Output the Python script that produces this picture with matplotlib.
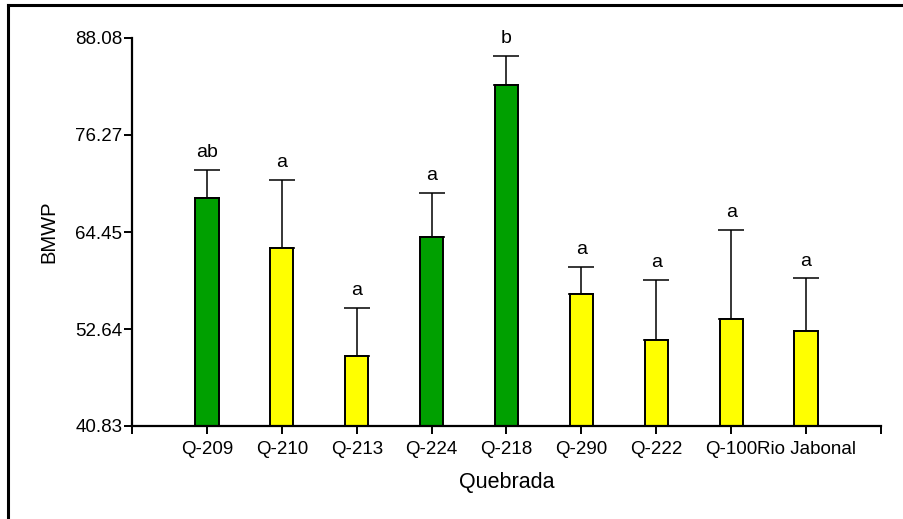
import numpy as np
import matplotlib
matplotlib.use('Agg')
import matplotlib.pyplot as plt
from matplotlib.lines import Line2D

plt.rcParams['font.family'] = ['Liberation Sans', 'DejaVu Sans']

# data
sites = ['Q-209', 'Q-210', 'Q-213', 'Q-224', 'Q-218', 'Q-290', 'Q-222', 'Q-100', 'Rio Jabonal']
means = [68.6, 62.5, 49.3, 63.8, 82.4, 56.9, 51.3, 53.8, 52.4]
err_top = [72.0, 70.8, 55.2, 69.2, 85.9, 60.2, 58.6, 64.7, 58.8]
letters = ['ab', 'a', 'a', 'a', 'b', 'a', 'a', 'a', 'a']
colors = ['#00a000', '#ffff00', '#ffff00', '#00a000', '#00a000',
          '#ffff00', '#ffff00', '#ffff00', '#ffff00']
yticks = [40.83, 52.64, 64.45, 76.27, 88.08]

fig = plt.figure(figsize=(9.04, 5.19), dpi=100)
ax = fig.add_axes([132/904, 1-426/519, (881-132)/904, (426-38)/519])

x = np.arange(1, len(sites)+1)
yerr = np.array(err_top) - np.array(means)
ax.bar(x, means, width=0.31, bottom=0, color=colors, edgecolor='black', linewidth=1.4, zorder=2)
ax.errorbar(x, means, yerr=[np.zeros_like(yerr), yerr], fmt='none', ecolor='black',
            elinewidth=1.1, capsize=9.5, capthick=1.1, zorder=1)

for xi, top, lab in zip(x, err_top, letters):
    ax.annotate(lab, (xi, top), xytext=(0, 12.5), textcoords='offset points',
                ha='center', va='center', fontsize=14)

ax.set_xlim(0, 10)
ax.set_ylim(yticks[0], yticks[-1])
ax.set_yticks(yticks)
ax.set_yticklabels(['%.2f' % v for v in yticks])
ax.set_xticks(np.arange(0, 11))
ax.set_xticklabels([''] + sites + [''])
ax.spines['top'].set_visible(False)
ax.spines['right'].set_visible(False)
ax.spines['left'].set_linewidth(1.6)
ax.spines['bottom'].set_linewidth(1.6)
ax.tick_params(axis='y', length=6, width=1.4, pad=1, labelsize=13.5)
ax.tick_params(axis='x', length=6, width=1.4, pad=5, labelsize=13.5)

ax.set_xlabel('Quebrada', fontsize=15.5, labelpad=10)
ax.set_ylabel('BMWP', fontsize=14.5, labelpad=12)

# outer frame (only left and top visible in reference)
fig.add_artist(Line2D([8/904, 8/904], [-0.1, 1-5/519], transform=fig.transFigure,
                      color='black', linewidth=2.2))
fig.add_artist(Line2D([8/904, 1.1], [1-5/519, 1-5/519], transform=fig.transFigure,
                      color='black', linewidth=2.2))

plt.savefig('out.png', dpi=100)
